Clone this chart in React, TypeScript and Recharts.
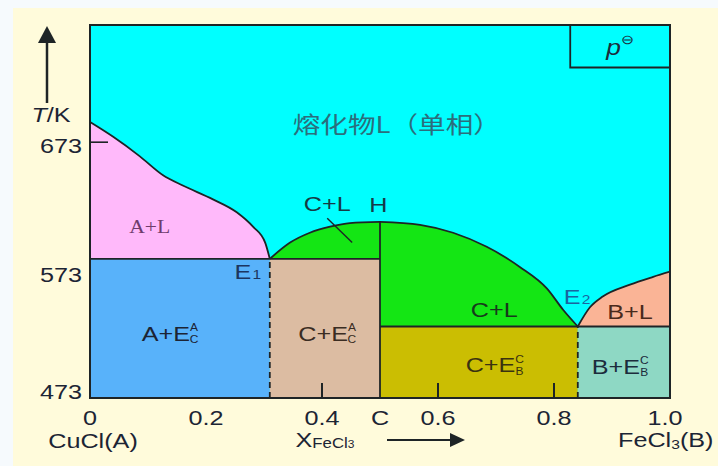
import type { ReactNode } from 'react'
import {
  Area,
  CartesianGrid,
  ComposedChart,
  Label,
  Line,
  ReferenceArea,
  ReferenceDot,
  ReferenceLine,
  XAxis,
  YAxis,
} from 'recharts'

// temperatures (K)
const T_BOTTOM = 473
const T_TOP = 791
const T_E1 = 573
const T_E2 = 522
const T_H = 603
const T_BOX = 746

// compositions (mole fraction FeCl3)
const X_E1 = 0.31
const X_C = 0.5
const X_E2 = 0.841
const X_BOX = 0.828

// liquidus of A (CuCl side), from x=0 down to E1
const LIQ_A_X = [0, 0.04, 0.086, 0.126, 0.16, 0.212, 0.253, 0.281, 0.302, 0.31]
const LIQ_A_T = [692, 678, 660, 643, 634, 622, 611, 599, 586, 573]

// liquidus of compound C, left branch E1 -> H
const LIQ_CL_X = [0.31, 0.345, 0.379, 0.414, 0.448, 0.5]
const LIQ_CL_T = [573, 586, 594, 599, 602, 603]

// liquidus of compound C, right branch H -> E2
const LIQ_CR_X = [0.5, 0.569, 0.626, 0.684, 0.741, 0.788, 0.816, 0.841]
const LIQ_CR_T = [603, 600.5, 594, 582.6, 566.7, 550, 534, 522]

// liquidus of B (FeCl3 side), E2 -> x=1
const LIQ_B_X = [0.841, 0.862, 0.884, 0.931, 0.971, 1]
const LIQ_B_T = [522, 536, 544, 553, 559, 563]

const X_TICKS = [0, 0.2, 0.4, 0.5, 0.6, 0.8, 1]
const X_TICK_TEXT = ['0', '0.2', '0.4', 'C', '0.6', '0.8', '1.0']
const INNER_X_TICKS = [0.4, 0.6, 0.8]
const Y_TICKS = [473, 573, 673]
const INNER_Y_TICKS = [673]

type RegionLabel = {
  x: number
  T: number
  text: string
  sup?: string
  sub?: string
  kind?: 'sans' | 'serif' | 'cjk' | 'p'
  color?: string
}

const REGION_LABELS: RegionLabel[] = [
  { x: 0.529, T: 691, text: '熔化物L（单相）', kind: 'cjk', color: '#2b6e7c' },
  { x: 0.103, T: 599, text: 'A+L', kind: 'serif', color: '#6e3c6c' },
  { x: 0.138, T: 517, text: 'A+E', sup: 'A', sub: 'C' },
  { x: 0.272, T: 563, text: 'E', sub: '1', color: '#1c3560' },
  { x: 0.409, T: 517, text: 'C+E', sup: 'A', sub: 'C', color: '#3a2c22' },
  { x: 0.409, T: 618, text: 'C+L', color: '#163a44' },
  { x: 0.497, T: 617, text: 'H', color: '#163a4a' },
  { x: 0.697, T: 534, text: 'C+L', color: '#173a1c' },
  { x: 0.84, T: 544, text: 'E', sub: '2', color: '#1a64a0' },
  { x: 0.931, T: 533, text: 'B+L', color: '#4a2a1c' },
  { x: 0.698, T: 495, text: 'C+E', sup: 'C', sub: 'B', color: '#3a3210' },
  { x: 0.914, T: 494, text: 'B+E', sup: 'C', sub: 'B', color: '#1c2c3c' },
  { x: 0.914, T: 767, text: 'p', sup: '⊖', kind: 'p', color: '#1c2c3c' },
]

// pointer from the upper "C+L" label into the small C+L field
const POINTER = [
  { x: 0.409, y: 606 },
  { x: 0.452, y: 586 },
]

const SANS = '"Liberation Sans", Arial, sans-serif'
const SERIF = '"Liberation Serif", "Times New Roman", serif'
const CJK = '"Noto Sans CJK SC", sans-serif'
const INK = '#1e2426'
const TEXT = '#1c2434'
const STRETCH = 1.2

const CREAM = '#fffbdb'
const CYAN = '#00ffff'
const PINK = '#ffb9fa'
const BLUE = '#58b2fa'
const TAN = '#dcbca2'
const GREEN = '#14e614'
const OLIVE = '#cbbe02'
const TEAL = '#8ed8c4'
const SALMON = '#fab496'

const Y_LABEL_NUDGE: Record<number, number> = { 473: -6, 573: 16, 673: 4 }

const pts = (xs: number[], ts: number[]) => xs.map((x, i) => ({ x, T: ts[i] }))
const band = (xs: number[], ts: number[], floor: number) =>
  xs.map((x, i) => ({ x, band: [floor, ts[i]] }))

/** Text drawn a little wider than the font, like the source figure. */
function Stretched({
  x,
  y,
  anchor = 'middle',
  size = 21,
  family = SANS,
  fill = TEXT,
  children,
}: {
  x: number
  y: number
  anchor?: 'start' | 'middle' | 'end'
  size?: number
  family?: string
  fill?: string
  children: ReactNode
}) {
  return (
    <g transform={`translate(${x},${y}) scale(${STRETCH},1)`}>
      <text
        x={0}
        y={0}
        textAnchor={anchor}
        dominantBaseline="central"
        fontSize={size}
        fontFamily={family}
        fill={fill}
      >
        {children}
      </text>
    </g>
  )
}

function RegionTag({ cx, cy, label }: { cx: number; cy: number; label: RegionLabel }) {
  const { text, sup, sub, kind = 'sans', color = TEXT } = label
  if (kind === 'cjk') {
    return (
      <Stretched x={cx} y={cy} size={23} family={CJK} fill={color}>
        {text}
      </Stretched>
    )
  }
  if (kind === 'serif') {
    return (
      <Stretched x={cx} y={cy} size={18} family={SERIF} fill={color}>
        {text}
      </Stretched>
    )
  }
  if (kind === 'p') {
    return (
      <Stretched x={cx} y={cy} size={22} fill={color}>
        <tspan fontStyle="italic">{text}</tspan>
        <tspan fontSize={13} dy={-8}>
          {sup}
        </tspan>
      </Stretched>
    )
  }
  const small = 10
  return (
    <Stretched x={cx} y={cy} size={21} fill={color}>
      {text}
      {sup && (
        <tspan fontSize={small} dy={-6}>
          {sup}
        </tspan>
      )}
      {sub && (
        <tspan fontSize={sup ? small : 13} dx={sup ? -7 : 1} dy={sup ? 12 : 3}>
          {sub}
        </tspan>
      )}
    </Stretched>
  )
}

function XTick({ x, y, payload }: { x: number; y: number; payload: { value: number } }) {
  const v = payload.value
  const i = X_TICKS.indexOf(v)
  const row2 = y + 42
  return (
    <g>
      {INNER_X_TICKS.includes(v) && (
        <line x1={x} x2={x} y1={y} y2={y - 15} stroke={INK} strokeWidth={2} />
      )}
      <Stretched x={v === 1 ? x - 5 : x} y={y + 20}>
        {X_TICK_TEXT[i]}
      </Stretched>
      {v === 0 && (
        <Stretched x={x + 3} y={row2 + 1}>
          CuCl(A)
        </Stretched>
      )}
      {v === 0.4 && (
        <Stretched x={x + 3} y={row2}>
          X
          <tspan fontSize={14} dy={3}>
            FeCl
          </tspan>
          <tspan fontSize={10} dy={1}>
            3
          </tspan>
        </Stretched>
      )}
      {v === 0.6 && (
        <g>
          <line x1={x - 51} x2={x + 16} y1={row2} y2={row2} stroke={INK} strokeWidth={2} />
          <polygon
            points={`${x + 12},${row2 - 7} ${x + 27},${row2} ${x + 12},${row2 + 7}`}
            fill={INK}
          />
        </g>
      )}
      {v === 1 && (
        <Stretched x={x - 52} y={row2} anchor="start">
          FeCl
          <tspan fontSize={13} dy={4}>
            3
          </tspan>
          <tspan dy={-4}>(B)</tspan>
        </Stretched>
      )}
    </g>
  )
}

function YTick({ x, y, payload }: { x: number; y: number; payload: { value: number } }) {
  const v = payload.value
  return (
    <g>
      {INNER_Y_TICKS.includes(v) && (
        <line x1={x} x2={x + 18} y1={y} y2={y} stroke={INK} strokeWidth={1.6} />
      )}
      <Stretched x={x - 8} y={y + (Y_LABEL_NUDGE[v] ?? 0)} anchor="end">
        {v}
      </Stretched>
    </g>
  )
}

function TAxisTitle(props: { viewBox?: { x: number; y: number } }) {
  const vb = props.viewBox ?? { x: 0, y: 25 }
  const ax = vb.x + 47
  return (
    <g>
      <line x1={ax} x2={ax} y1={vb.y + 14} y2={vb.y + 78} stroke={INK} strokeWidth={2.5} />
      <polygon
        points={`${ax},${vb.y + 1} ${ax - 9},${vb.y + 18} ${ax + 9},${vb.y + 18}`}
        fill={INK}
      />
      <Stretched x={vb.x + 51} y={vb.y + 90}>
        <tspan fontStyle="italic">T</tspan>/K
      </Stretched>
    </g>
  )
}

const curve = { type: 'monotone' as const, stroke: INK, strokeWidth: 1.8, dot: false, isAnimationActive: false }
const field = { type: 'monotone' as const, stroke: 'none', fillOpacity: 1, isAnimationActive: false }
const rule = { stroke: INK, strokeWidth: 1.8 }

export default function App() {
  return (
    <div
      style={{
        position: 'absolute',
        left: 0,
        top: 0,
        width: 718,
        height: 466,
        background: '#f6fafd',
        overflow: 'hidden',
      }}
    >
      <div style={{ position: 'absolute', left: 13, top: 8, right: 0, bottom: 0, background: CREAM }} />
      <div style={{ position: 'absolute', left: 0, top: 0 }}>
        <ComposedChart width={718} height={466} margin={{ top: 25, right: 48, bottom: 0, left: 0 }}>
          <CartesianGrid fill={CYAN} fillOpacity={1} horizontal={false} vertical={false} />
          <XAxis
            dataKey="x"
            type="number"
            domain={[0, 1]}
            ticks={X_TICKS}
            interval={0}
            allowDataOverflow
            height={68}
            axisLine={false}
            tickLine={false}
            tickSize={0}
            tickMargin={0}
            tick={XTick}
          />
          <YAxis
            type="number"
            scale="log"
            domain={[T_BOTTOM, T_TOP]}
            ticks={Y_TICKS}
            interval={0}
            allowDataOverflow
            width={90}
            axisLine={false}
            tickLine={false}
            tickSize={0}
            tickMargin={0}
            tick={YTick}
          >
            <Label content={TAxisTitle} />
          </YAxis>

          <ReferenceArea x1={0} x2={X_E1} y1={T_BOTTOM} y2={T_E1} fill={BLUE} fillOpacity={1} stroke="none" />
          <ReferenceArea x1={X_E1} x2={X_C} y1={T_BOTTOM} y2={T_E1} fill={TAN} fillOpacity={1} stroke="none" />
          <ReferenceArea x1={X_C} x2={X_E2} y1={T_BOTTOM} y2={T_E2} fill={OLIVE} fillOpacity={1} stroke="none" />
          <ReferenceArea x1={X_E2} x2={1} y1={T_BOTTOM} y2={T_E2} fill={TEAL} fillOpacity={1} stroke="none" />

          <Area data={band(LIQ_A_X, LIQ_A_T, T_E1)} dataKey="band" fill={PINK} {...field} />
          <Area data={band(LIQ_CL_X, LIQ_CL_T, T_E1)} dataKey="band" fill={GREEN} {...field} />
          <Area data={band(LIQ_CR_X, LIQ_CR_T, T_E2)} dataKey="band" fill={GREEN} {...field} />
          <Area data={band(LIQ_B_X, LIQ_B_T, T_E2)} dataKey="band" fill={SALMON} {...field} />

          <Line data={pts(LIQ_A_X, LIQ_A_T)} dataKey="T" {...curve} />
          <Line data={pts(LIQ_CL_X, LIQ_CL_T)} dataKey="T" {...curve} />
          <Line data={pts(LIQ_CR_X, LIQ_CR_T)} dataKey="T" {...curve} />
          <Line data={pts(LIQ_B_X, LIQ_B_T)} dataKey="T" {...curve} />

          <ReferenceLine segment={[{ x: 0, y: T_E1 }, { x: X_C, y: T_E1 }]} {...rule} />
          <ReferenceLine segment={[{ x: X_C, y: T_E2 }, { x: 1, y: T_E2 }]} {...rule} />
          <ReferenceLine segment={[{ x: X_C, y: T_BOTTOM }, { x: X_C, y: T_H }]} {...rule} />
          <ReferenceLine
            segment={[{ x: X_E1, y: T_BOTTOM }, { x: X_E1, y: T_E1 }]}
            {...rule}
            strokeDasharray="6 4"
          />
          <ReferenceLine
            segment={[{ x: X_E2, y: T_BOTTOM }, { x: X_E2, y: T_E2 }]}
            {...rule}
            strokeDasharray="6 4"
          />
          <ReferenceLine segment={POINTER} stroke={INK} strokeWidth={1.4} />

          <ReferenceArea x1={X_BOX} x2={1} y1={T_BOX} y2={T_TOP} fill="none" stroke={INK} strokeWidth={1.8} />
          <ReferenceArea x1={0} x2={1} y1={T_BOTTOM} y2={T_TOP} fill="none" stroke={INK} strokeWidth={2} />

          {REGION_LABELS.map((l, i) => (
            <ReferenceDot
              key={i}
              x={l.x}
              y={l.T}
              r={1}
              fill="none"
              stroke="none"
              shape={(p: { cx: number; cy: number }) => <RegionTag cx={p.cx} cy={p.cy} label={l} />}
            />
          ))}
        </ComposedChart>
      </div>
    </div>
  )
}
